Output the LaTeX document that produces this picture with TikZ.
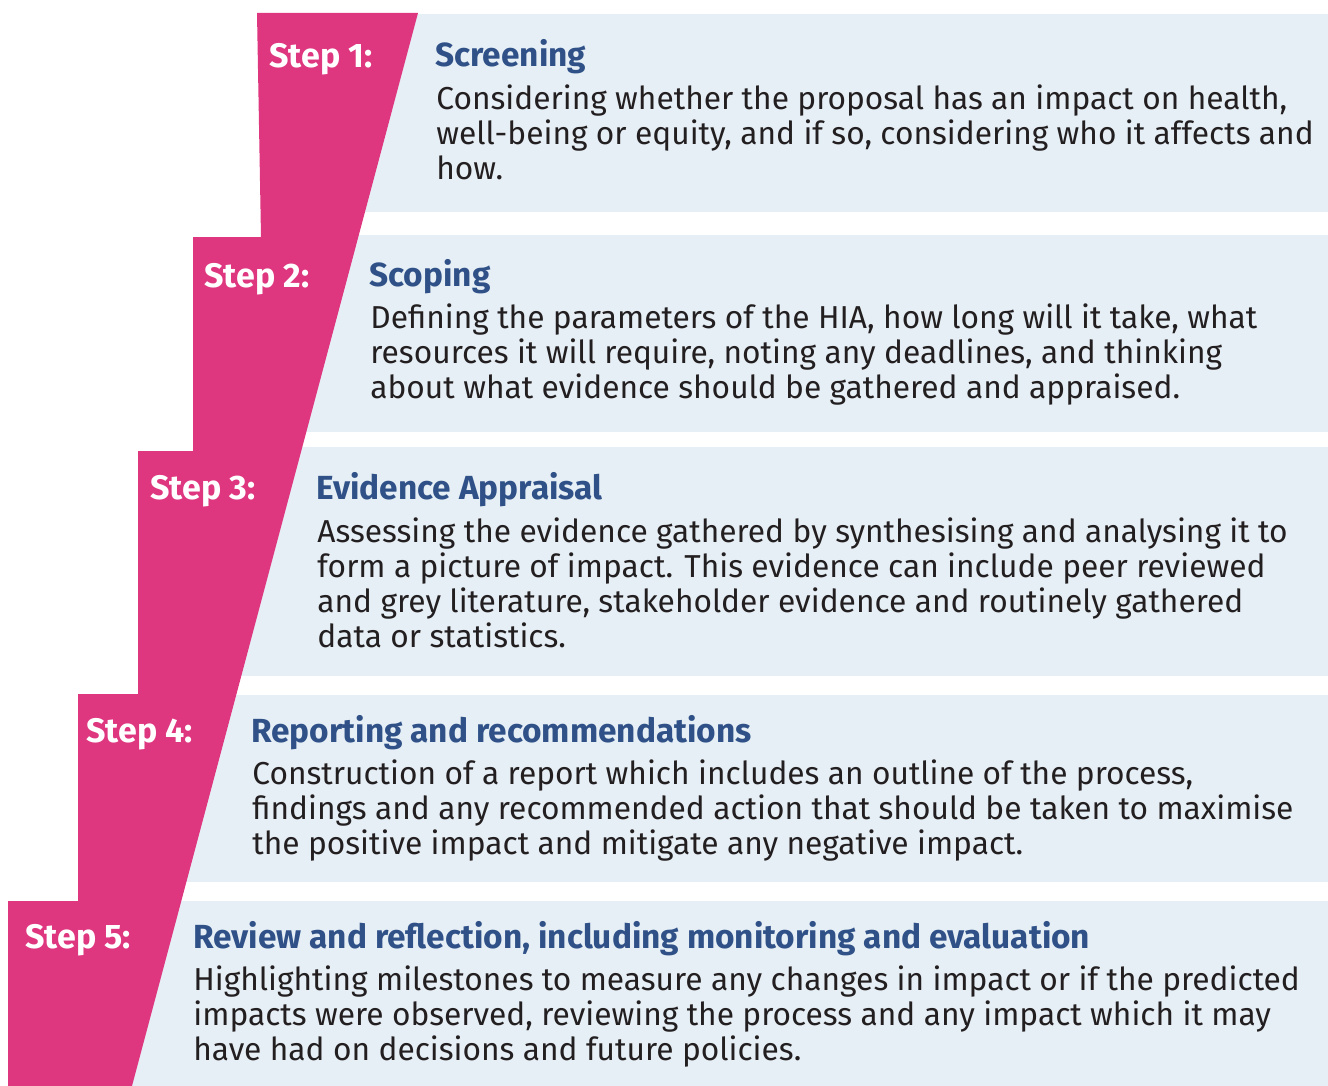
\documentclass[tikz,border=0pt]{standalone}
\usepackage{fontspec}
\setmainfont{Fira Sans}
\definecolor{stepPink}{HTML}{DF3680}
\definecolor{boxBlue}{HTML}{E6EFF6}
\definecolor{titleBlue}{HTML}{2F5187}
\definecolor{bodyGrey}{HTML}{231F20}
\tikzset{
  steplabel/.style={anchor=base west,inner sep=0pt,text=white,font=\fontsize{17}{20}\selectfont\bfseries},
  steptitle/.style={anchor=base west,inner sep=0pt,text=titleBlue,font=\fontsize{16.7}{20}\selectfont\bfseries},
  stepbody/.style={anchor=north west,inner sep=0pt,align=left,text=bodyGrey,font=\fontsize{15.85}{17.5}\selectfont},
}
\begin{document}
\begin{tikzpicture}[x=0.5pt,y=-0.5pt]
\useasboundingbox (0,0) rectangle (1328,1086);

% blue boxes
\fill[boxBlue] (360,14) rectangle (1328,212);
\fill[boxBlue] (300,235) rectangle (1328,432);
\fill[boxBlue] (236,447) rectangle (1328,676);
\fill[boxBlue] (180,695) rectangle (1328,882);
\fill[boxBlue] (128,901) rectangle (1328,1086);

% pink staircase
\fill[stepPink] (257,13) -- (418,13) -- (132,1086) -- (8,1086) -- (8,901) -- (78,901) -- (78,694) -- (138,694) -- (138,451) -- (193,451) -- (193,237) -- (261,237) -- cycle;

% step 1
\node[steplabel] (s1) at (269,68) {Step 1:};
\node[steptitle] (t1) at (435,67) {Screening};
\node[stepbody] (b1) at (436,84) {Considering whether the proposal has an impact on health,\\ well-being or equity, and if so, considering who it affects and\\ how.};

% step 2
\node[steplabel] (s2) at (204,287) {Step 2:};
\node[steptitle] (t2) at (369,286) {Scoping};
\node[stepbody] (b2) at (370,303) {Defining the parameters of the HIA, how long will it take, what\\ resources it will require, noting any deadlines, and thinking\\ about what evidence should be gathered and appraised.};

% step 3
\node[steplabel] (s3) at (150,499) {Step 3:};
\node[steptitle] (t3) at (316,499) {Evidence Appraisal};
\node[stepbody] (b3) at (317,517) {Assessing the evidence gathered by synthesising and analysing it to\\ form a picture of impact. This evidence can include peer reviewed\\ and grey literature, stakeholder evidence and routinely gathered\\ data or statistics.};

% step 4
\node[steplabel] (s4) at (86,742) {Step 4:};
\node[steptitle] (t4) at (251,742) {Reporting and recommendations};
\node[stepbody] (b4) at (252,759) {Construction of a report which includes an outline of the process,\\ findings and any recommended action that should be taken to maximise\\ the positive impact and mitigate any negative impact.};

% step 5
\node[steplabel] (s5) at (25,948) {Step 5:};
\node[steptitle] (t5) at (193,948) {Review and reflection, including monitoring and evaluation};
\node[stepbody] (b5) at (193,965) {Highlighting milestones to measure any changes in impact or if the predicted\\ impacts were observed, reviewing the process and any impact which it may\\ have had on decisions and future policies.};
\end{tikzpicture}
\end{document}
